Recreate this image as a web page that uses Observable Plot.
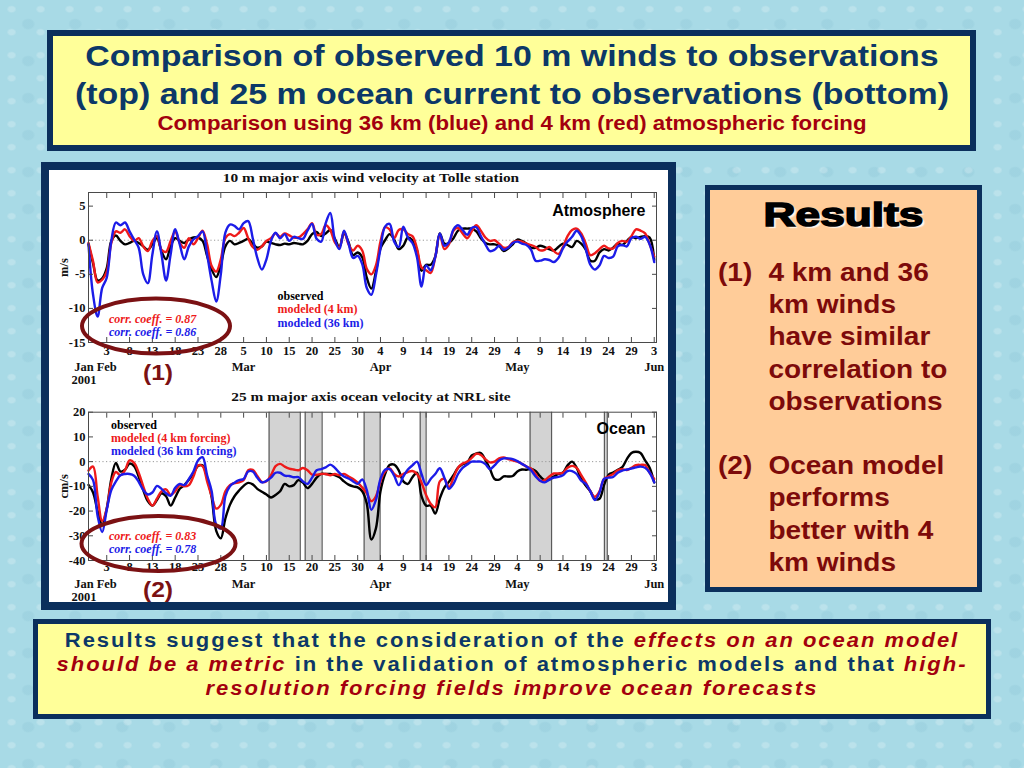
<!DOCTYPE html>
<html><head><meta charset="utf-8">
<script src="https://cdn.jsdelivr.net/npm/d3@7"></script>
<script src="https://cdn.jsdelivr.net/npm/@observablehq/plot@0.6"></script>
<style>
html,body{margin:0;padding:0}
body{width:1024px;height:768px;position:relative;overflow:hidden;
 background-color:#a8dae6;
 background-image:radial-gradient(ellipse at 40% 40%, rgba(255,255,255,.22) 0 3px, transparent 5px),
  radial-gradient(ellipse at 60% 65%, rgba(120,180,200,.18) 0 5px, transparent 7px);
 background-size:29px 23px, 47px 37px;
 font-family:"Liberation Sans",Arial,sans-serif}
.abs{position:absolute}
.box{box-sizing:border-box;border-style:solid;border-color:#0b2f5c}
#titlebox{left:47px;top:30px;width:929px;height:121px;border-width:6px;background:#ffff99}
.t1{left:0;width:1024px;top:37px;text-align:center;font-weight:bold;font-size:30px;line-height:38px;color:#0c3868;transform:scaleX(1.13);white-space:nowrap}
.t2{left:0;width:1024px;top:112px;text-align:center;font-weight:bold;font-size:19.5px;line-height:22px;color:#a3000e;transform:scaleX(1.14);white-space:nowrap}
#panel{left:41px;top:162px;width:635px;height:448px;border-width:8px;background:#fff}
.ctitle{left:0;width:742px;text-align:center;font-family:"Liberation Serif","Times New Roman",serif;font-weight:bold;font-size:13.5px;line-height:16px;color:#111;white-space:nowrap;transform:scaleX(1.14)}
.num{left:0;width:316px;text-align:center;font-weight:bold;font-size:22px;line-height:26px;color:#7b1113;transform:scaleX(1.12)}
#resbox{left:705px;top:185px;width:277px;height:407px;border-width:5px;background:#ffcc99}
#reshead{left:705px;width:277px;top:195px;text-align:center;font-weight:bold;font-size:33px;line-height:40px;color:#000;
 -webkit-text-stroke:1.5px #000;transform:scaleX(1.34);text-shadow:2px 2px 1px rgba(255,255,255,.85)}
#items{left:718px;top:256px;transform:scaleX(1.12);transform-origin:0 0;font-weight:bold;font-size:25px;line-height:32.2px;color:#7d0a0a;white-space:nowrap}
.item{position:relative;padding-left:45px}
.item span{position:absolute;left:0;top:0}
#botbox{left:33px;top:619px;width:958px;height:100px;border-width:5px;background:#ffff99}
#bottext{left:0;width:1024px;top:628px;text-align:center;font-weight:bold;font-size:20px;line-height:24px;letter-spacing:1.8px;color:#0c3868;transform:scaleX(1.1);white-space:nowrap}
#bottext i{color:#a3000e}
</style></head>
<body>
<div class="abs box" id="titlebox"></div>
<div class="abs t1">Comparison of observed 10 m winds to observations<br>(top) and 25 m ocean current to observations (bottom)</div>
<div class="abs t2">Comparison using 36 km (blue) and 4 km (red) atmospheric forcing</div>
<div class="abs box" id="panel"></div>
<div class="abs ctitle" style="top:170px">10 m major axis wind velocity at Tolle station</div>
<div class="abs ctitle" style="top:389px">25 m major axis ocean velocity at NRL site</div>
<div id="chart1" class="abs" style="left:48px;top:184px"></div>
<div id="chart2" class="abs" style="left:48px;top:403px"></div>
<svg class="abs" width="1024" height="768" style="left:0;top:0;pointer-events:none">
 <ellipse cx="156" cy="326" rx="74" ry="27.5" fill="none" stroke="#7b1113" stroke-width="4"/>
 <ellipse cx="158.5" cy="543.5" rx="77" ry="27.5" fill="none" stroke="#7b1113" stroke-width="4"/>
</svg>
<div class="abs num" style="top:360px">(1)</div>
<div class="abs num" style="top:577px">(2)</div>
<div class="abs box" id="resbox"></div>
<div class="abs" id="reshead">Results</div>
<div class="abs" id="items">
 <div class="item"><span>(1)</span>4 km and 36<br>km winds<br>have similar<br>correlation to<br>observations</div>
 <div style="height:32.2px"></div>
 <div class="item"><span>(2)</span>Ocean model<br>performs<br>better with 4<br>km winds</div>
</div>
<div class="abs box" id="botbox"></div>
<div class="abs" id="bottext">Results suggest that the consideration of the <i>effects on an ocean model</i><br><i>should be a metric</i> in the validation of atmospheric models and that <i>high-</i><br><i>resolution forcing fields improve ocean forecasts</i></div>

<script>
// ---------- DATA ----------
// daily samples starting 2001-01-30
const startDate = "2001-01-30";
const endDate = "2001-06-03T12:00Z";

// 10 m major axis wind velocity (m/s)
const windObserved = [-0.6,-3.4,-5.9,-5.6,-4.1,-0.1,0.7,-0.1,-0.6,-0.4,
 -0.1,-0.4,-0.9,-1.4,-0.6,0.3,-1.6,-2.8,-0.9,0.3,
 -0.1,-0.4,0.1,0.4,0.4,-0.1,-2.3,-4.3,-5.4,-3.6,
 -0.9,-0.1,-0.6,-0.4,-0.1,0.2,-0.5,-1.1,-0.9,-0.2,
 -0.4,-0.6,-0.7,-0.5,-0.6,-0.4,-0.5,-0.6,-0.1,0.9,
 1.2,0.6,1.0,1.5,0.2,-1.0,1.0,-0.3,-2.2,-1.8,
 -2.5,-5.5,-7.1,-4.6,-1.2,0.0,0.9,0.1,-1.3,-0.8,
 0.4,0.0,-1.5,-4.5,-3.6,-3.6,-2.4,1.0,-0.5,-0.4,
 0.3,1.4,1.7,1.7,1.7,1.3,0.3,-0.4,-0.6,-0.6,
 -0.8,-1.6,-1.2,-0.6,0.1,-0.1,-0.5,-1.1,-1.1,-0.8,
 -1.0,-1.3,-1.5,-1.0,-0.5,-0.7,-1.0,-0.1,-0.5,-1.4,
 -3.0,-3.0,-1.8,-1.3,-1.5,-1.1,-0.5,-0.7,-0.1,0.5,
 0.3,0.5,0.6,0.4,-2.9];
const windModel4km = [-0.4,-3.1,-6.2,-5.8,-4.6,-0.4,1.3,1.1,1.6,0.6,
 -0.1,0.3,-0.9,-1.6,-0.1,0.6,-1.4,-1.7,-0.1,1.3,
 -0.4,-1.1,0.3,-0.6,0.3,1.4,-0.6,-3.8,-4.6,-2.8,
 0.3,0.9,0.6,1.1,1.8,0.3,-1.0,-1.4,-0.9,-0.1,
 0.3,1.0,0.5,1.0,0.7,0.4,0.4,0.9,1.6,2.5,
 0.8,0.9,2.2,1.5,-0.3,-1.0,1.3,-0.6,-1.5,-0.8,
 -1.5,-4.2,-5.0,-3.7,-0.2,1.9,1.6,0.3,1.5,1.6,
 0.9,0.6,-1.2,-4.0,-4.4,-4.8,-2.5,0.9,-1.3,-0.6,
 1.4,1.8,1.0,0.3,1.3,2.2,1.4,0.4,-0.1,0.0,
 -0.5,-1.1,-1.0,-0.3,-0.1,-0.2,-0.5,-0.7,-1.0,-1.5,
 -1.4,-1.0,-1.6,-2.0,-1.0,0.6,1.5,1.7,1.0,-0.5,
 -2.2,-1.9,-1.3,-0.8,-1.2,-1.2,-0.4,-0.1,-0.2,0.6,
 1.6,1.4,1.0,-0.6,-2.4];
const windModel36km = [-0.6,-8.0,-11.2,-7.0,-5.5,-0.1,2.6,2.2,2.6,1.3,
 0.1,-1.1,-5.0,-6.3,-2.1,1.3,-2.1,-5.9,-2.1,1.6,
 -0.6,-2.8,-0.9,0.1,0.6,1.3,-2.1,-6.0,-9.0,-5.0,
 1.1,2.3,2.1,1.6,2.5,2.8,0.3,-2.6,-4.3,-2.8,
 -0.1,1.1,0.3,0.9,-0.1,0.5,0.3,0.2,1.4,2.4,
 0.2,-0.2,2.5,4.0,0.1,-1.3,1.4,-0.5,-2.6,-2.3,
 -3.5,-7.0,-8.0,-5.1,-1.2,2.0,2.4,-0.2,-1.0,2.0,
 0.4,-0.4,-2.5,-6.8,-3.7,-4.4,-2.5,1.0,-0.8,-0.3,
 1.6,2.2,1.5,0.8,1.8,1.9,0.6,-0.6,-1.6,-1.4,
 -0.8,-1.4,-1.1,-0.4,-0.2,-0.5,-0.7,-1.4,-3.0,-3.0,
 -2.8,-2.9,-3.2,-2.6,-1.2,-0.2,0.5,1.4,0.6,-1.3,
 -3.6,-4.3,-3.7,-2.3,-2.6,-2.4,-0.9,-0.7,-0.9,0.3,
 0.5,0.2,0.5,-0.6,-3.2];

// 25 m major axis ocean velocity (cm/s)
const oceanObserved = [-9.4,-12.5,-20.0,-25.5,-19.0,-7.0,-0.5,-4.0,-3.3,-0.8,
 -1.8,-6.0,-11.5,-16.0,-17.8,-15.5,-12.8,-14.0,-17.8,-14.5,
 -11.0,-9.5,-7.3,-4.8,-1.8,-1.5,-6.5,-14.5,-28.0,-31.0,
 -23.0,-17.5,-14.0,-11.7,-9.8,-8.6,-9.2,-11.0,-12.2,-13.3,
 -14.5,-13.5,-12.0,-9.0,-10.0,-9.5,-7.5,-8.5,-10.7,-9.0,
 -6.5,-5.0,-5.0,-5.0,-5.5,-6.3,-8.0,-9.3,-10.0,-10.4,
 -12.0,-17.0,-31.5,-27.0,-12.0,-5.0,-1.4,-1.2,-3.5,-8.0,
 -9.0,-6.3,-4.5,-14.0,-17.8,-17.8,-21.0,-15.0,-10.5,-8.2,
 -5.5,-2.5,-1.0,-0.5,2.5,3.3,3.5,0.6,-3.0,-7.0,
 -7.3,-6.0,-6.0,-5.8,-4.0,-3.2,-3.3,-3.0,-3.8,-6.0,
 -7.5,-7.3,-6.0,-5.0,-4.4,-1.5,0.0,-2.5,-7.0,-9.7,
 -12.0,-15.0,-15.0,-9.5,-5.3,-4.4,-3.3,-2.2,1.0,3.5,
 4.0,3.5,0.5,-2.5,-8.4];
const oceanModel4km = [-3.6,-2.0,-14.0,-24.0,-19.0,-8.5,-4.2,-5.5,-3.5,0.5,
 -0.5,-4.5,-10.0,-15.0,-17.8,-15.0,-12.0,-11.2,-13.5,-12.0,
 -9.5,-10.0,-9.5,-6.0,-1.5,-1.8,-8.0,-14.0,-19.0,-17.5,
 -12.0,-9.5,-8.7,-8.4,-7.5,-3.5,-3.3,-5.8,-8.2,-7.9,
 -5.5,-1.8,-0.9,-2.0,-2.8,-3.2,-3.5,-2.6,-3.5,-5.3,
 -5.3,-5.0,-5.0,-5.5,-5.0,-5.5,-5.0,-6.0,-7.0,-8.5,
 -10.5,-12.8,-16.0,-14.0,-8.0,-4.0,-2.7,-5.0,-6.0,-5.0,
 -4.2,-3.8,-5.0,-8.5,-13.5,-17.0,-18.5,-8.0,-7.0,-10.4,
 -6.5,-2.5,-0.8,0.0,1.5,3.2,2.7,1.0,-0.3,0.0,
 1.3,1.7,1.0,0.5,0.0,-0.9,-2.0,-2.8,-5.0,-7.8,
 -7.5,-6.0,-4.8,-4.8,-4.5,-2.5,-1.7,-2.5,-5.5,-8.5,
 -12.0,-14.2,-12.0,-7.0,-6.0,-5.0,-3.5,-3.1,-3.4,-2.5,
 -1.4,-1.3,-1.4,-4.5,-7.0];
const oceanModel36km = [-5.0,-7.5,-22.0,-28.5,-19.5,-11.5,-8.0,-5.5,-5.0,-5.0,
 -5.7,-8.2,-11.5,-13.3,-12.5,-9.8,-11.0,-12.8,-13.8,-10.6,
 -9.0,-9.5,-7.0,-4.0,0.5,1.8,-5.5,-12.0,-25.5,-27.0,
 -14.0,-10.0,-8.5,-7.5,-7.0,-4.0,-4.0,-6.5,-8.4,-7.8,
 -6.5,-4.5,-4.5,-5.7,-5.8,-6.3,-6.3,-8.0,-9.0,-6.5,
 -3.5,-3.0,-2.3,-1.2,-2.5,-4.5,-6.0,-6.8,-8.0,-9.0,
 -7.2,-11.5,-19.5,-15.5,-7.0,-3.3,-3.0,-5.7,-9.5,-6.0,
 -3.2,-1.5,0.0,-5.0,-9.5,-7.0,-5.0,-2.7,-6.5,-11.0,
 -9.0,-5.0,-2.5,-1.2,0.0,0.0,0.0,-1.0,-3.0,-1.5,
 0.5,1.3,1.3,1.0,0.2,-0.9,-2.0,-3.5,-6.0,-7.7,
 -8.4,-7.3,-6.5,-6.2,-5.5,-3.8,-3.8,-5.0,-7.7,-9.0,
 -12.0,-15.5,-12.5,-7.0,-6.5,-6.2,-4.5,-3.6,-3.2,-2.8,
 -2.3,-2.0,-2.5,-4.5,-8.4];

// grey shaded periods in the ocean panel
const bandStarts = ["2001-03-10T14:00Z","2001-03-18T12:00Z","2001-03-31T10:00Z","2001-04-12T17:00Z","2001-05-06T19:00Z","2001-05-23T02:00Z"];
const bandEnds   = ["2001-03-17T10:00Z","2001-03-22T05:00Z","2001-04-03T22:00Z","2001-04-14T00:00Z","2001-05-11T12:00Z","2001-05-23T17:00Z"];

// tick labels
const tickDates = ["2001-02-03","2001-02-08","2001-02-13","2001-02-18","2001-02-23","2001-02-28",
 "2001-03-05","2001-03-10","2001-03-15","2001-03-20","2001-03-25","2001-03-30",
 "2001-04-04","2001-04-09","2001-04-14","2001-04-19","2001-04-24","2001-04-29",
 "2001-05-04","2001-05-09","2001-05-14","2001-05-19","2001-05-24","2001-05-29","2001-06-03"];
const monthDates = ["2001-01-29","2001-02-03","2001-03-05","2001-04-04","2001-05-04","2001-06-03"];
const monthNames = ["Jan","Feb","Mar","Apr","May","Jun"];
const yearLabel = ["2001"];
const windTicks = [-15,-10,-5,0,5];
const oceanTicks = [-40,-30,-20,-10,0,10,20];

const windLegend = ["observed","modeled (4 km)","modeled (36 km)"];
const oceanLegend = ["observed","modeled (4 km forcing)","modeled (36 km forcing)"];
const windCorr = ["corr. coeff. = 0.87","corr. coeff. = 0.86"];
const oceanCorr = ["corr. coeff. = 0.83","corr. coeff. = 0.78"];
const colors = ["#000000","#ee1a1a","#1c1ce8"];

// ---------- BUILD ----------
const t0 = new Date(startDate + "T00:00Z");
const toRows = arr => arr.map((v, i) => ({date: d3.utcDay.offset(t0, i), v}));
const ticks = tickDates.map(s => new Date(s + "T00:00Z"));
const months = monthDates.map((s, i) => ({date: new Date(s + "T00:00Z"), name: monthNames[i]}));
const bands = bandStarts.map((s, i) => ({start: new Date(s), end: new Date(bandEnds[i])}));
const serif = "'Liberation Serif','Times New Roman',serif";
const sans = "'Liberation Sans',Arial,sans-serif";

function chart({series, yDomain, yTicks, yLabel, height, marginTop, marginBottom, legend, legendDx, legendDy, corr, corrDy, tag, tagDy, tickDy, monthDy, yearDy, withBands}) {
  const gray = "#4a4a4a";
  const marks = [];
  if (withBands) {
    marks.push(Plot.rect(bands, {x1: "start", x2: "end", fill: "#d3d3d3"}));
    marks.push(Plot.ruleX(bands, {x: "start", stroke: "#5a5a5a", strokeWidth: 1.2}));
    marks.push(Plot.ruleX(bands, {x: "end", stroke: "#5a5a5a", strokeWidth: 1.2}));
  }
  marks.push(Plot.ruleY([0], {stroke: "#9a9a9a", strokeDasharray: "1.2,2.4"}));
  series.forEach((s, i) => marks.push(Plot.line(toRows(s), {x: "date", y: "v", stroke: colors[i], strokeWidth: 2.4, curve: "catmull-rom"})));
  marks.push(Plot.frame({stroke: gray}));
  // inward tick marks
  marks.push(Plot.axisX({anchor: "bottom", ticks, tickSize: 5, dy: -5, fill: "none", stroke: gray}));
  marks.push(Plot.axisX({anchor: "top", ticks, tickSize: 5, dy: 5, fill: "none", stroke: gray}));
  marks.push(Plot.axisY({anchor: "left", ticks: yTicks, tickSize: 5, dx: 5, fill: "none", stroke: gray}));
  marks.push(Plot.axisY({anchor: "right", ticks: yTicks, tickSize: 5, dx: -5, fill: "none", stroke: gray}));
  // tick labels
  marks.push(Plot.axisX({anchor: "bottom", ticks, tickSize: 0, tickPadding: tickDy, tickFormat: d => String(d.getUTCDate()), label: null, fill: "#111"}));
  marks.push(Plot.axisY({anchor: "left", ticks: yTicks, tickSize: 0, tickPadding: 3, tickFormat: d => String(d), label: yLabel, labelAnchor: "center", labelOffset: 29, labelArrow: false, fill: "#111"}));
  // months / year
  marks.push(Plot.text(months, {x: "date", text: "name", frameAnchor: "bottom", lineAnchor: "middle", dy: monthDy, fill: "#111"}));
  marks.push(Plot.text(yearLabel, {x: () => months[0].date, text: d => d, frameAnchor: "bottom", lineAnchor: "middle", dy: yearDy, fill: "#111"}));
  // legend
  legend.forEach((l, i) => marks.push(Plot.text([l], {frameAnchor: "top-left", textAnchor: "start", lineAnchor: "middle", dx: legendDx, dy: legendDy + i * 13.4, fill: colors[i], fontSize: 12})));
  corr.forEach((c, i) => marks.push(Plot.text([c], {frameAnchor: "top-left", textAnchor: "start", lineAnchor: "middle", dx: 20.5, dy: corrDy + i * 12.8, fill: colors[i + 1], fontSize: 12, fontStyle: "italic"})));
  marks.push(Plot.text([tag], {frameAnchor: "top-right", textAnchor: "end", lineAnchor: "middle", dx: -11, dy: tagDy, fill: "#000", fontFamily: sans, fontSize: 16, fontWeight: "bold"}));
  return Plot.plot({
    width: 620, height, marginLeft: 40, marginRight: 12, marginTop, marginBottom,
    x: {type: "utc", domain: [t0, new Date(endDate)], label: null},
    y: {domain: yDomain, label: null},
    style: {fontFamily: serif, fontSize: "12.5px", fontWeight: "bold", background: "transparent", overflow: "visible", color: "#111"},
    marks
  });
}

document.getElementById("chart1").append(chart({
  series: [windObserved, windModel4km, windModel36km], yDomain: [-15, 7], yTicks: windTicks, yLabel: "m/s",
  height: 205, marginTop: 8, marginBottom: 47,
  legend: windLegend, legendDx: 189, legendDy: 103.5, corr: windCorr, corrDy: 127,
  tag: "Atmosphere", tagDy: 18, tickDy: 4, monthDy: 24, yearDy: 37, withBands: false
}));
document.getElementById("chart2").append(chart({
  series: [oceanObserved, oceanModel4km, oceanModel36km], yDomain: [-40, 20], yTicks: oceanTicks, yLabel: "cm/s",
  height: 199, marginTop: 8.7, marginBottom: 42,
  legend: oceanLegend, legendDx: 22.5, legendDy: 12.6, corr: oceanCorr, corrDy: 124,
  tag: "Ocean", tagDy: 16.5, tickDy: 2, monthDy: 23, yearDy: 36.5, withBands: true
}));
</script>
</body></html>
